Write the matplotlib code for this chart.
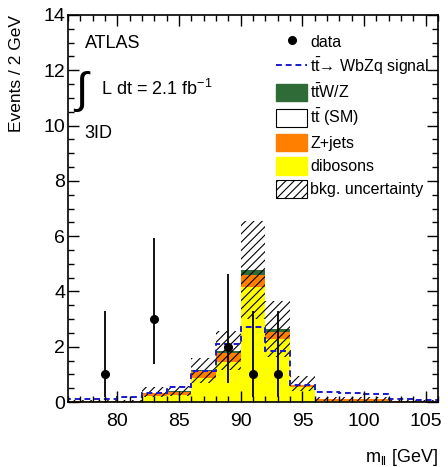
import numpy as np
import matplotlib
matplotlib.use("Agg")
import matplotlib.pyplot as plt
from matplotlib.patches import Patch
from matplotlib.lines import Line2D
from matplotlib.ticker import MultipleLocator

plt.rcParams['font.family'] = ['Liberation Sans', 'DejaVu Sans']
plt.rcParams['mathtext.fontset'] = 'custom'
plt.rcParams['mathtext.rm'] = 'Liberation Sans'
plt.rcParams['mathtext.it'] = 'Liberation Sans:italic'
plt.rcParams['mathtext.default'] = 'regular'
plt.rcParams['hatch.linewidth'] = 0.8

# bins of 2 GeV in m_ll
edges = np.arange(76, 108, 2)

dibosons = [0.02, 0.02, 0.02, 0.22, 0.25, 0.87, 1.46, 4.17, 2.28, 0.55, 0.04, 0.04, 0.04, 0.02, 0.02]
zjets = [0.02, 0.02, 0.02, 0.12, 0.12, 0.24, 0.31, 0.41, 0.25, 0.08, 0.06, 0.06, 0.06, 0.01, 0.01]
ttbar_sm = [0.0, 0.0, 0.0, 0.01, 0.01, 0.01, 0.01, 0.02, 0.01, 0.01, 0.0, 0.0, 0.0, 0.0, 0.0]
ttwz = [0.01, 0.01, 0.01, 0.02, 0.02, 0.03, 0.08, 0.18, 0.1, 0.02, 0.01, 0.01, 0.01, 0.0, 0.0]
bkg_unc = [0.04, 0.04, 0.04, 0.18, 0.18, 0.46, 0.7, 1.77, 1.0, 0.27, 0.06, 0.06, 0.06, 0.03, 0.03]
signal = [0.1, 0.12, 0.2, 0.33, 0.55, 1.13, 2.1, 2.73, 1.85, 0.62, 0.35, 0.32, 0.3, 0.1, 0.08]

data_x = [79, 83, 89, 91, 93]
data_y = [1, 3, 2, 1, 1]
data_lo = [0.173, 1.37, 0.708, 0.173, 0.173]
data_hi = [3.30, 5.92, 4.64, 3.30, 3.30]

fig = plt.figure(figsize=(4.48, 4.67), dpi=100)
ax = fig.add_axes([0.152, 0.139, 0.826, 0.829])

bottom = np.zeros(len(dibosons))
for vals, col in [(dibosons, '#ffff00'), (zjets, '#ff7f00'), (ttbar_sm, 'white'), (ttwz, '#2e6b36')]:
    vals = np.array(vals)
    ax.stairs(bottom + vals, edges, baseline=bottom, fill=True, color=col, lw=0)
    bottom = bottom + vals

unc = np.array(bkg_unc)
ax.stairs(bottom + unc, edges, baseline=np.clip(bottom - unc, 0, None), fill=True,
          facecolor='none', edgecolor='black', hatch='////', lw=0)

ax.stairs(signal, edges, color='#1a1acc', ls=(0, (3, 2)), lw=1.4)

lo = np.array(data_y) - np.array(data_lo)
hi = np.array(data_hi) - np.array(data_y)
ax.errorbar(data_x, data_y, yerr=[lo, hi], fmt='o', color='black', ms=5.5, elinewidth=1.3, capsize=0)

ax.set_xlim(76, 106)
ax.set_ylim(0, 14)
ax.xaxis.set_major_locator(MultipleLocator(5))
ax.xaxis.set_minor_locator(MultipleLocator(1))
ax.yaxis.set_major_locator(MultipleLocator(2))
ax.yaxis.set_minor_locator(MultipleLocator(0.5))
ax.tick_params(which='both', direction='in', top=True, right=True, labelsize=14)
ax.tick_params(which='major', length=8, width=1)
ax.tick_params(which='minor', length=4, width=1)
ax.tick_params(axis='x', pad=8)
ax.tick_params(axis='y', pad=2)
for s in ax.spines.values():
    s.set_linewidth(1.2)

ax.set_ylabel('Events / 2 GeV', loc='top', fontsize=12.5, labelpad=14)
ax.set_xlabel('m$_{ll}$ [GeV]', loc='right', fontsize=13, labelpad=12)

ax.text(0.045, 0.925, 'ATLAS', transform=ax.transAxes, fontsize=13, va='center')
ax.text(0.012, 0.80, r'$\int$', transform=ax.transAxes, fontsize=32, va='center')
ax.text(0.09, 0.81, 'L dt = 2.1 fb$^{-1}$', transform=ax.transAxes, fontsize=13, va='center')
ax.text(0.045, 0.695, '3ID', transform=ax.transAxes, fontsize=13, va='center')

handles = [
    Line2D([], [], marker='o', ls='none', color='black', ms=5.5),
    Line2D([], [], color='#1a1acc', ls=(0, (3, 2)), lw=1.4),
    Patch(facecolor='#2e6b36', edgecolor='#2e6b36'),
    Patch(facecolor='white', edgecolor='black', lw=0.8),
    Patch(facecolor='#ff7f00', edgecolor='#ff7f00'),
    Patch(facecolor='#ffff00', edgecolor='#ffff00'),
    Patch(facecolor='white', edgecolor='black', hatch='////', lw=0.8),
]
labels = ['data', r't$\bar{t}$→ WbZq signal', r't$\bar{t}$W/Z', r't$\bar{t}$ (SM)',
          'Z+jets', 'dibosons', 'bkg. uncertainty']
ax.legend(handles, labels, loc='upper right', bbox_to_anchor=(1.003, 0.978), frameon=False,
          fontsize=11.5, handlelength=1.95, handleheight=1.3, labelspacing=0.36,
          handletextpad=0.2, borderaxespad=0.2)

fig.savefig('out.png', dpi=100)
